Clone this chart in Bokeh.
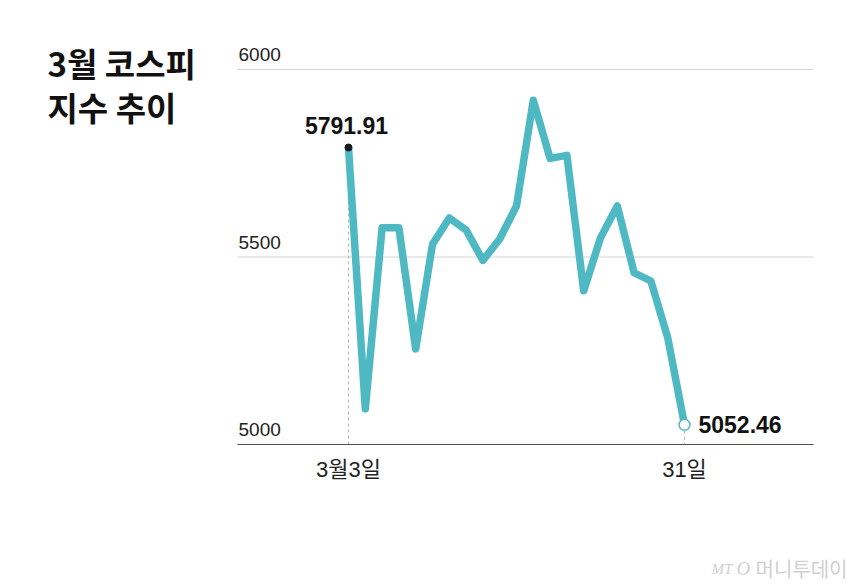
from bokeh.plotting import figure
from bokeh.models import Range1d, FixedTicker, Grid
from bokeh.core.properties import value
from bokeh.embed import file_html
from bokeh.resources import INLINE

# ---- data ----
days = ["3월3일", "4일", "5일", "6일", "9일", "10일", "11일", "12일", "13일",
        "16일", "17일", "18일", "19일", "20일", "23일", "24일", "25일", "26일",
        "27일", "30일", "31일"]
kospi = [5791.91, 5095, 5578, 5578, 5255, 5534, 5604, 5572, 5491, 5548, 5636,
         5918, 5763, 5771, 5410, 5551, 5636, 5458, 5436, 5285, 5052.46]
yticks = [5000, 5500, 6000]
ytick_labels = ["5000", "5500", "6000"]
xtick_idx = [0, 20]
xtick_labels = ["3월3일", "31일"]
title_lines = ["3월 코스피", "지수 추이"]
source_text = ["MT", "O", "머니투데이"]

idx = list(range(len(days)))

TEAL = "#4fb9c3"
NUM = "Liberation Sans, Noto Sans CJK KR"
KR = "Noto Sans CJK KR"

W, H = 860, 586
# pixel <-> data mapping (frame = whole canvas)
X0_PX, PX_PER_IDX = 348, 16.8
Y0_PX, PX_PER_VAL = 444, 0.375


def dx(px):
    return (px - X0_PX) / PX_PER_IDX


def dy(py):
    return 5000 + (Y0_PX - py) / PX_PER_VAL


p = figure(width=W, height=H, output_backend="svg", toolbar_location=None,
           x_range=Range1d(dx(0), dx(W)), y_range=Range1d(dy(H), dy(0)),
           y_axis_location=None, min_border=0, tools="")
p.outline_line_color = None
p.background_fill_color = "white"
p.border_fill_color = "white"
p.center = [r for r in p.center if not isinstance(r, Grid)]

plot_left, plot_right = dx(237), dx(813)

# horizontal grid lines
p.segment(x0=[plot_left] * len(yticks), y0=yticks,
          x1=[plot_right] * len(yticks), y1=yticks,
          line_color="#d4d4d4", line_width=1)

ax = p.xaxis[0]
ax.fixed_location = yticks[0]
ax.bounds = (plot_left, plot_right)
ax.ticker = FixedTicker(ticks=xtick_idx)
ax.major_label_overrides = {i: t for i, t in zip(xtick_idx, xtick_labels)}
ax.axis_line_color = "#505050"
ax.axis_line_width = 1.2
ax.major_tick_line_color = None
ax.minor_tick_line_color = None
ax.major_label_text_font = NUM
ax.major_label_text_font_size = "22px"
ax.major_label_text_color = "#222222"
ax.major_label_standoff = 6

# y tick labels (left aligned above grid lines)
p.text(x=[plot_left] * len(yticks), y=yticks, text=ytick_labels,
       x_offset=1, y_offset=-15, text_align="left", text_baseline="middle",
       text_font=value(NUM), text_font_size="19px", text_color="#222222")

# dashed guides
for i in (0, len(kospi) - 1):
    p.segment(x0=[idx[i]], y0=[kospi[i]], x1=[idx[i]], y1=[yticks[0]],
              line_color="#b5b5b5", line_width=1, line_dash="3 3")

p.line(idx, kospi, line_color=TEAL, line_width=7.5, line_join="round",
       line_cap="round")

p.scatter([idx[0]], [kospi[0]], size=7, fill_color="#1a1a1a",
          line_color="#1a1a1a")
p.scatter([idx[-1]], [kospi[-1]], size=11, fill_color="white",
          line_color=TEAL, line_width=1.5)

p.text(x=[idx[0]], y=[kospi[0]], text=[f"{kospi[0]:.2f}"], x_offset=-2,
       y_offset=-22, text_align="center", text_baseline="middle",
       text_font=value(NUM), text_font_style="bold",
       text_font_size="23px", text_color="#111111")
p.text(x=[idx[-1]], y=[kospi[-1]], text=[f"{kospi[-1]:.2f}"], x_offset=14,
       y_offset=0, text_align="left", text_baseline="middle",
       text_font=value(NUM), text_font_style="bold",
       text_font_size="23px", text_color="#111111")

# title
p.text(x=[dx(47), dx(47)], y=[dy(62), dy(106)], text=title_lines,
       text_align="left", text_baseline="middle",
       text_font=value(KR), text_font_style="bold", text_font_size="33px",
       text_color="#111111")

# source
p.text(x=[dx(711)], y=[dy(568)], text=[source_text[0]], text_align="left",
       text_baseline="middle", text_font=value("Liberation Serif"),
       text_font_style="italic", text_font_size="15px", text_color="#d0d0d0")
p.text(x=[dx(736)], y=[dy(568)], text=[source_text[1]], text_align="left",
       text_baseline="middle", text_font=value("Liberation Serif"),
       text_font_style="italic", text_font_size="19px", text_color="#d0d0d0")
p.text(x=[dx(755)], y=[dy(568)], text=[source_text[2]], text_align="left",
       text_baseline="middle", text_font=value(KR), text_font_size="20px",
       text_color="#d0d0d0")

open("out.html", "w").write(file_html(p, INLINE))
